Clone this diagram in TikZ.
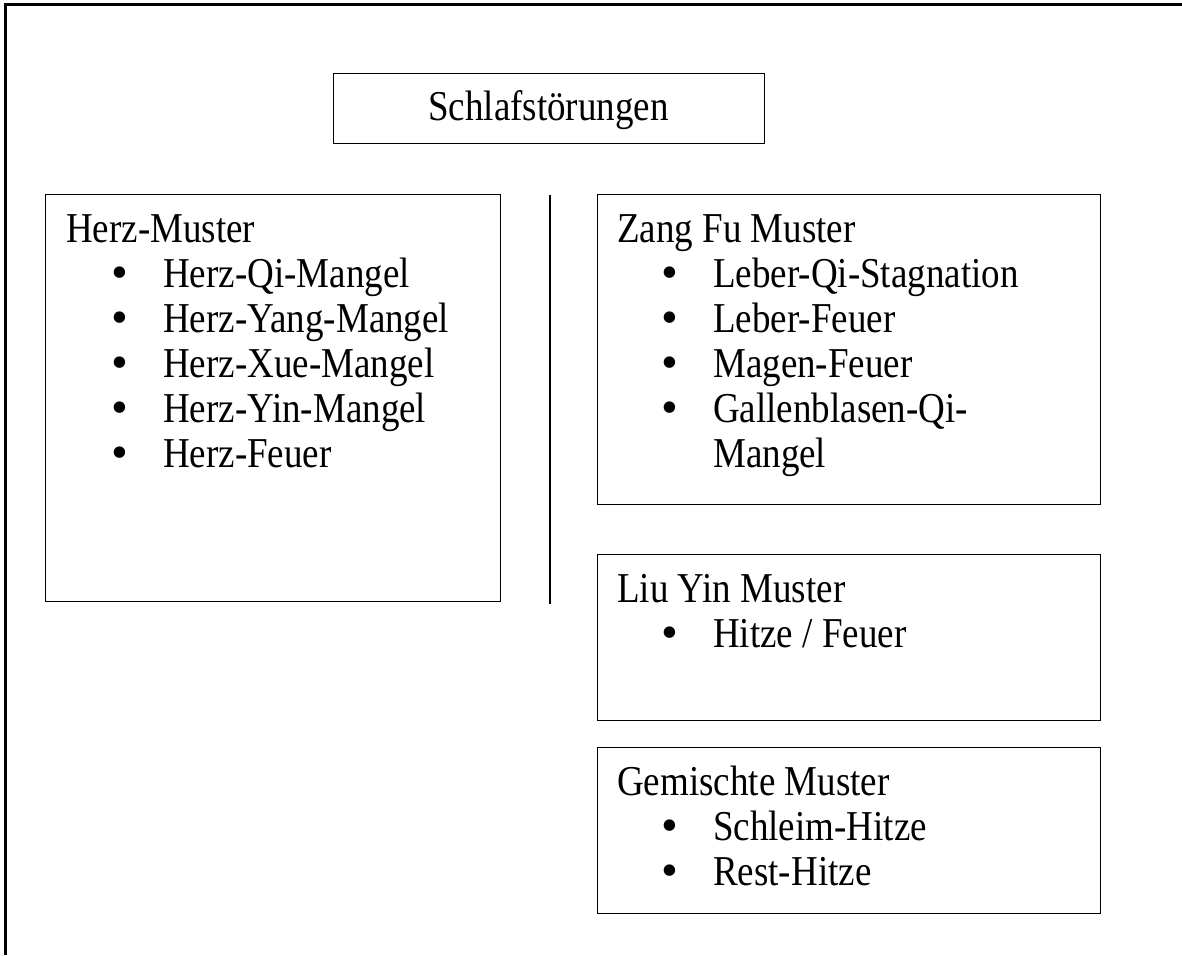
\documentclass[tikz,border=0pt]{standalone}
\usepackage{fontspec}
\usepackage{graphicx}
\setmainfont{Liberation Serif}
\newcommand{\tallt}[1]{\scalebox{1}[1.15]{#1}}
\begin{document}
\begin{tikzpicture}[x=1pt,y=-1pt,
  frame/.style={draw=black,line width=1.3pt,inner sep=0pt,anchor=north west},
  txt/.style={anchor=base west,inner sep=0pt,font=\fontsize{37}{42}\selectfont},
  bul/.style={anchor=base,inner sep=0pt,font=\fontsize{48}{48}\selectfont},
  rule/.style={draw=black,line width=1.5pt}]
\useasboundingbox (0,0) rectangle (1182,955);
% outer frame (left and top edges)
\coordinate (fBL) at (5.5,955);
\coordinate (fTL) at (5.5,4.5);
\coordinate (fTR) at (1182,4.5);
\draw[line width=2.2pt] (fBL) -- (fTL) -- (fTR);
% title
\node[frame,minimum width=431pt,minimum height=70pt] (title) at (333,73) {};
\node[anchor=base,inner sep=0pt,font=\fontsize{37}{42}\selectfont] (titleT) at (548.5,121) {\tallt{Schlafstörungen}};
% vertical separator
\coordinate (vT) at (550,195);
\coordinate (vB) at (550,604);
\draw[rule] (vT) -- (vB);
% Herz box
\node[frame,minimum width=455pt,minimum height=407pt] (herz) at (45,194) {};
\node[txt] (herzT) at (66,242) {\tallt{Herz-Muster}};
\node[bul] (hb1) at (120,288) {•}; \node[txt] (h1) at (163,287) {\tallt{Herz-Qi-Mangel}};
\node[bul] (hb2) at (120,333) {•}; \node[txt] (h2) at (163,332) {\tallt{Herz-Yang-Mangel}};
\node[bul] (hb3) at (120,378) {•}; \node[txt] (h3) at (163,377) {\tallt{Herz-Xue-Mangel}};
\node[bul] (hb4) at (120,423) {•}; \node[txt] (h4) at (163,422) {\tallt{Herz-Yin-Mangel}};
\node[bul] (hb5) at (120,468) {•}; \node[txt] (h5) at (163,467) {\tallt{Herz-Feuer}};
% Zang Fu box
\node[frame,minimum width=503pt,minimum height=310pt] (zang) at (597,194) {};
\node[txt] (zangT) at (617,242) {\tallt{Zang Fu Muster}};
\node[bul] (zb1) at (670,288) {•}; \node[txt] (z1) at (713,287) {\tallt{Leber-Qi-Stagnation}};
\node[bul] (zb2) at (670,333) {•}; \node[txt] (z2) at (713,332) {\tallt{Leber-Feuer}};
\node[bul] (zb3) at (670,378) {•}; \node[txt] (z3) at (713,377) {\tallt{Magen-Feuer}};
\node[bul] (zb4) at (670,423) {•}; \node[txt] (z4) at (713,422) {\tallt{Gallenblasen-Qi-}};
\node[txt] (z4b) at (713,467) {\tallt{Mangel}};
% Liu Yin box
\node[frame,minimum width=503pt,minimum height=166pt] (liu) at (597,554) {};
\node[txt] (liuT) at (617,602) {\tallt{Liu Yin Muster}};
\node[bul] (lb1) at (670,648) {•}; \node[txt] (l1) at (713,647) {\tallt{Hitze / Feuer}};
% Gemischte box
\node[frame,minimum width=503pt,minimum height=166pt] (gem) at (597,747) {};
\node[txt] (gemT) at (617,795) {\tallt{Gemischte Muster}};
\node[bul] (gb1) at (670,841) {•}; \node[txt] (g1) at (713,840) {\tallt{Schleim-Hitze}};
\node[bul] (gb2) at (670,886) {•}; \node[txt] (g2) at (713,885) {\tallt{Rest-Hitze}};
\end{tikzpicture}
\end{document}
